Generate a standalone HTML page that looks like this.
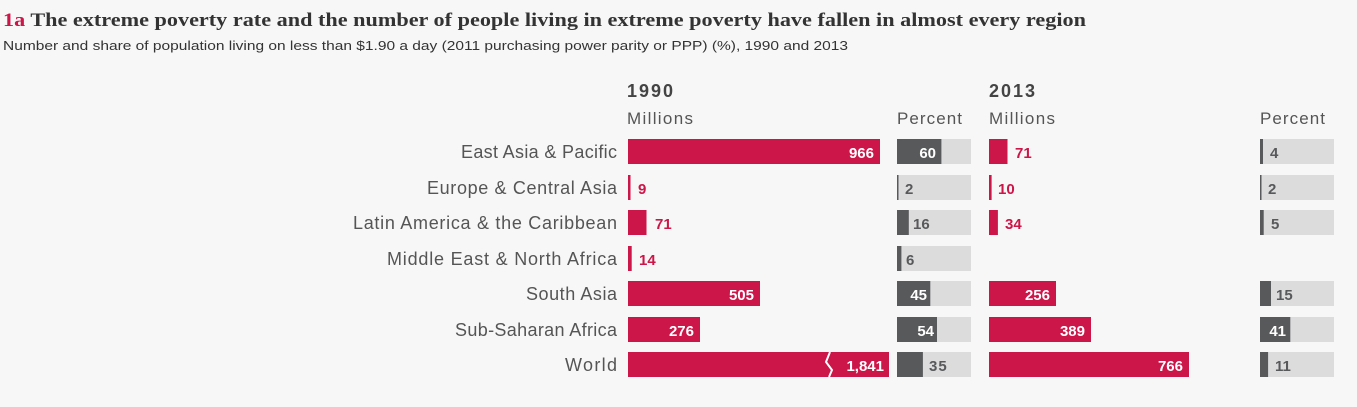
<!DOCTYPE html>
<html><head><meta charset="utf-8"><style>
body{margin:0;background:#f7f7f7;width:1357px;height:407px;overflow:hidden;font-family:"Liberation Sans",sans-serif;}
</style></head><body>
<svg width="1357" height="407" style="position:absolute;left:0;top:0" font-family="Liberation Sans, sans-serif">
<text x="3" y="26" font-family="Liberation Serif, serif" font-weight="bold" font-size="19" fill="#333" textLength="1083" lengthAdjust="spacingAndGlyphs"><tspan fill="#cc1548">1a</tspan> The extreme poverty rate and the number of people living in extreme poverty have fallen in almost every region</text>
<text x="3" y="50" font-size="13" fill="#333" textLength="845" lengthAdjust="spacingAndGlyphs">Number and share of population living on less than $1.90 a day (2011 purchasing power parity or PPP) (%), 1990 and 2013</text>
<g font-size="18" fill="#444">
<text x="627" y="97" font-weight="bold" textLength="46">1990</text>
<text x="989" y="97" font-weight="bold" textLength="46">2013</text>
<text x="627" y="124" fill="#555" font-size="17" textLength="66">Millions</text>
<text x="897" y="124" fill="#555" font-size="17" textLength="65">Percent</text>
<text x="989" y="124" fill="#555" font-size="17" textLength="66">Millions</text>
<text x="1260" y="124" fill="#555" font-size="17" textLength="65">Percent</text>
</g>
<g font-size="18" fill="#555" lengthAdjust="spacingAndGlyphs">
<text x="461" y="158" textLength="156">East Asia &amp; Pacific</text>
<text x="427" y="194" textLength="190">Europe &amp; Central Asia</text>
<text x="353" y="229" textLength="264">Latin America &amp; the Caribbean</text>
<text x="387" y="265" textLength="230">Middle East &amp; North Africa</text>
<text x="526" y="300" textLength="91">South Asia</text>
<text x="455" y="336" textLength="162">Sub-Saharan Africa</text>
<text x="565" y="371" textLength="52">World</text>
</g>
<g font-size="15" font-weight="bold">
<rect x="628" y="139" width="252" height="25" fill="#cc1548"/><text x="874" y="158" fill="#fff" text-anchor="end">966</text>
<rect x="628" y="175" width="2.5" height="25" fill="#cc1548"/><text x="638" y="194" fill="#cc1548">9</text>
<rect x="628" y="210" width="18.5" height="25" fill="#cc1548"/><text x="655" y="229" fill="#cc1548">71</text>
<rect x="628" y="246" width="3.7" height="25" fill="#cc1548"/><text x="639" y="265" fill="#cc1548">14</text>
<rect x="628" y="281" width="132" height="25" fill="#cc1548"/><text x="754" y="300" fill="#fff" text-anchor="end">505</text>
<rect x="628" y="317" width="72" height="25" fill="#cc1548"/><text x="694" y="336" fill="#fff" text-anchor="end">276</text>
<rect x="628" y="352" width="261" height="25" fill="#cc1548"/>
<path d="M830 352 L826 362 L832 370 L829 377" stroke="#fff" stroke-width="2" fill="none"/>
<text x="884" y="371" fill="#fff" text-anchor="end">1,841</text>
<g fill="#dcdcdd">
<rect x="897" y="139" width="74" height="25"/><rect x="897" y="175" width="74" height="25"/><rect x="897" y="210" width="74" height="25"/><rect x="897" y="246" width="74" height="25"/><rect x="897" y="281" width="74" height="25"/><rect x="897" y="317" width="74" height="25"/><rect x="897" y="352" width="74" height="25"/>
</g>
<g fill="#58595b">
<rect x="897" y="139" width="44.4" height="25"/><rect x="897" y="175" width="1.5" height="25"/><rect x="897" y="210" width="11.8" height="25"/><rect x="897" y="246" width="4.4" height="25"/><rect x="897" y="281" width="33.3" height="25"/><rect x="897" y="317" width="40" height="25"/><rect x="897" y="352" width="25.9" height="25"/>
</g>
<text x="936" y="158" fill="#fff" text-anchor="end">60</text>
<text x="905" y="194" fill="#58595b">2</text>
<text x="913" y="229" fill="#58595b">16</text>
<text x="906" y="265" fill="#58595b">6</text>
<text x="927" y="300" fill="#fff" text-anchor="end">45</text>
<text x="934" y="336" fill="#fff" text-anchor="end">54</text>
<text x="929" y="371" fill="#58595b" letter-spacing="1">35</text>
<rect x="989" y="139" width="18.5" height="25" fill="#cc1548"/><text x="1015" y="158" fill="#cc1548">71</text>
<rect x="989" y="175" width="2.6" height="25" fill="#cc1548"/><text x="998" y="194" fill="#cc1548">10</text>
<rect x="989" y="210" width="8.9" height="25" fill="#cc1548"/><text x="1005" y="229" fill="#cc1548">34</text>
<rect x="989" y="281" width="67" height="25" fill="#cc1548"/><text x="1050" y="300" fill="#fff" text-anchor="end">256</text>
<rect x="989" y="317" width="102" height="25" fill="#cc1548"/><text x="1085" y="336" fill="#fff" text-anchor="end">389</text>
<rect x="989" y="352" width="200" height="25" fill="#cc1548"/><text x="1183" y="371" fill="#fff" text-anchor="end">766</text>
<g fill="#dcdcdd">
<rect x="1260" y="139" width="74" height="25"/><rect x="1260" y="175" width="74" height="25"/><rect x="1260" y="210" width="74" height="25"/><rect x="1260" y="281" width="74" height="25"/><rect x="1260" y="317" width="74" height="25"/><rect x="1260" y="352" width="74" height="25"/>
</g>
<g fill="#58595b">
<rect x="1260" y="139" width="3" height="25"/><rect x="1260" y="175" width="1.5" height="25"/><rect x="1260" y="210" width="3.7" height="25"/><rect x="1260" y="281" width="11" height="25"/><rect x="1260" y="317" width="30.3" height="25"/><rect x="1260" y="352" width="8.1" height="25"/>
</g>
<text x="1270" y="158" fill="#58595b">4</text>
<text x="1268" y="194" fill="#58595b">2</text>
<text x="1271" y="229" fill="#58595b">5</text>
<text x="1276" y="300" fill="#58595b">15</text>
<text x="1286" y="336" fill="#fff" text-anchor="end">41</text>
<text x="1275" y="371" fill="#58595b">11</text>
</g>
</svg>
</body></html>
